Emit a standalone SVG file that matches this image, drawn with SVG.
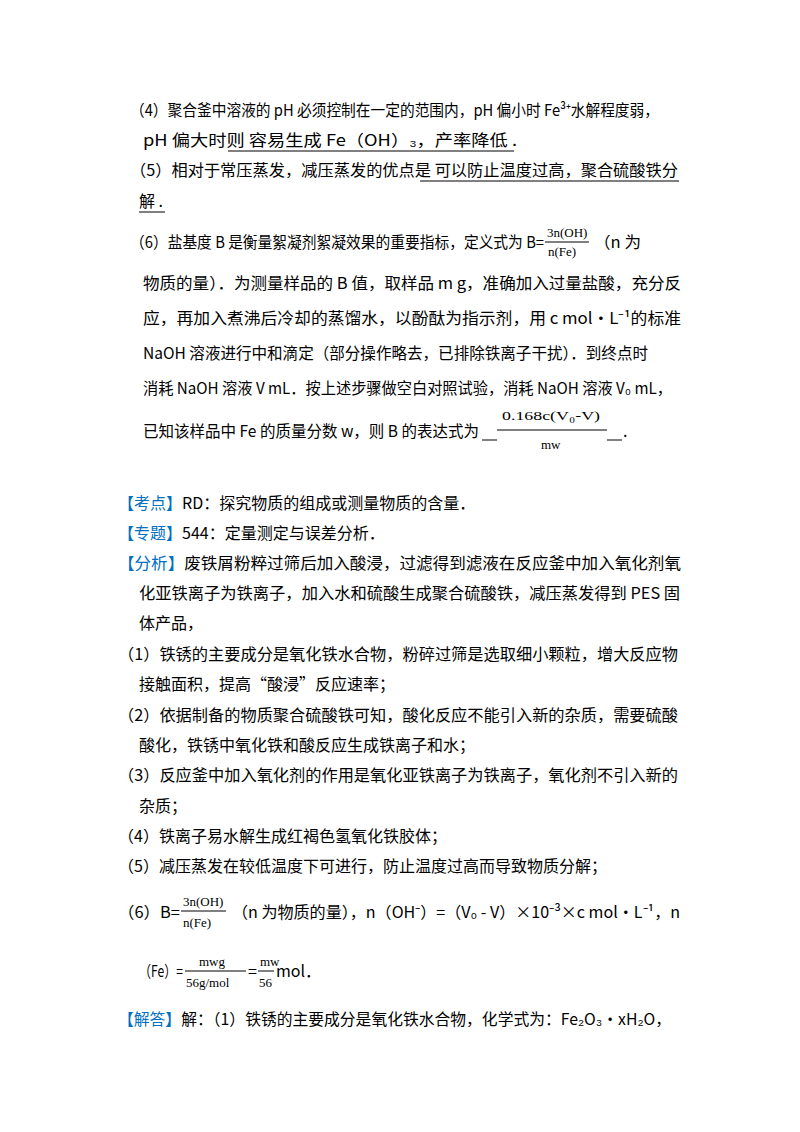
<svg xmlns="http://www.w3.org/2000/svg" width="800" height="1132" viewBox="0 0 800 1132">
<style>
text{font-family:"Microsoft YaHei","Noto Sans CJK SC",sans-serif;font-size:16px;fill:#000}
.b{fill:#0070c0}
.f{font-family:"Liberation Serif","Noto Sans CJK SC",serif;font-size:13px}
line{stroke:#000;stroke-width:1}
</style>
<rect width="800" height="1132" fill="#fff"/>
<g id="q4">
<text x="130" y="116" textLength="529" lengthAdjust="spacingAndGlyphs">（4）聚合釜中溶液的 pH 必须控制在一定的范围内，pH 偏小时 Fe³⁺水解程度弱，</text>
<text x="143" y="146" textLength="374" lengthAdjust="spacingAndGlyphs">pH 偏大时则  容易生成 Fe（OH）₃，产率降低   .</text>
<line x1="228" y1="151" x2="514" y2="151"/>
</g>
<g id="q5">
<text x="130" y="176" textLength="548" lengthAdjust="spacingAndGlyphs">（5）相对于常压蒸发，减压蒸发的优点是  可以防止温度过高，聚合硫酸铁分</text>
<line x1="420" y1="181" x2="679" y2="181"/>
<text x="139" y="207">解   .</text>
<line x1="139" y1="212" x2="165" y2="212"/>
</g>
<g id="q6">
<text x="130" y="248" textLength="414" lengthAdjust="spacingAndGlyphs">（6）盐基度 B 是衡量絮凝剂絮凝效果的重要指标，定义式为 B=</text>
<text x="547" y="237" class="f">3n(OH)</text>
<line x1="545" y1="242" x2="589" y2="242"/>
<text x="548" y="256" class="f">n(Fe)</text>
<text x="594" y="248" textLength="47" lengthAdjust="spacingAndGlyphs">（n 为</text>
<text x="143" y="289" textLength="538" lengthAdjust="spacingAndGlyphs">物质的量）．为测量样品的 B 值，取样品 m g，准确加入过量盐酸，充分反</text>
<text x="143" y="324" textLength="538" lengthAdjust="spacingAndGlyphs">应，再加入煮沸后冷却的蒸馏水，以酚酞为指示剂，用 c mol•L⁻¹的标准</text>
<text x="143" y="359" textLength="505" lengthAdjust="spacingAndGlyphs">NaOH 溶液进行中和滴定（部分操作略去，已排除铁离子干扰）．到终点时</text>
<text x="143" y="394" textLength="529" lengthAdjust="spacingAndGlyphs">消耗 NaOH 溶液 V mL．按上述步骤做空白对照试验，消耗 NaOH 溶液 V₀ mL，</text>
<text x="143" y="437" textLength="336" lengthAdjust="spacingAndGlyphs">已知该样品中 Fe 的质量分数 w，则 B 的表达式为</text>
<line x1="482" y1="440" x2="497" y2="440"/>
<text x="502" y="420" class="f" textLength="98" lengthAdjust="spacingAndGlyphs">0.168c(V₀-V)</text>
<line x1="497" y1="430" x2="607" y2="430"/>
<text x="541" y="449" class="f" font-size="10">mw</text>
<line x1="607" y1="440" x2="622" y2="440"/>
<text x="623" y="437">.</text>
</g>
<g id="kaodian">
<text x="118" y="509"><tspan class="b">【考点】</tspan>RD：探究物质的组成或测量物质的含量．</text>
<text x="118" y="539"><tspan class="b">【专题】</tspan>544：定量测定与误差分析．</text>
</g>
<g id="fenxi">
<text x="118" y="569" textLength="563" lengthAdjust="spacingAndGlyphs"><tspan class="b">【分析】</tspan>废铁屑粉粹过筛后加入酸浸，过滤得到滤液在反应釜中加入氧化剂氧</text>
<text x="139" y="599" textLength="541" lengthAdjust="spacingAndGlyphs">化亚铁离子为铁离子，加入水和硫酸生成聚合硫酸铁，减压蒸发得到 PES 固</text>
<text x="139" y="629">体产品，</text>
<text x="118" y="660" textLength="560" lengthAdjust="spacingAndGlyphs">（1）铁锈的主要成分是氧化铁水合物，粉碎过筛是选取细小颗粒，增大反应物</text>
<text x="139" y="690">接触面积，提高“酸浸”反应速率；</text>
<text x="118" y="721" textLength="560" lengthAdjust="spacingAndGlyphs">（2）依据制备的物质聚合硫酸铁可知，酸化反应不能引入新的杂质，需要硫酸</text>
<text x="139" y="751">酸化，铁锈中氧化铁和酸反应生成铁离子和水；</text>
<text x="118" y="781" textLength="560" lengthAdjust="spacingAndGlyphs">（3）反应釜中加入氧化剂的作用是氧化亚铁离子为铁离子，氧化剂不引入新的</text>
<text x="139" y="812">杂质；</text>
<text x="118" y="842">（4）铁离子易水解生成红褐色氢氧化铁胶体；</text>
<text x="118" y="872">（5）减压蒸发在较低温度下可进行，防止温度过高而导致物质分解；</text>
<text x="118" y="918" textLength="62" lengthAdjust="spacingAndGlyphs">（6）B=</text>
<text x="183" y="906" class="f">3n(OH)</text>
<line x1="181" y1="911" x2="226" y2="911"/>
<text x="183" y="927" class="f">n(Fe)</text>
<text x="232" y="918" textLength="448" lengthAdjust="spacingAndGlyphs">（n 为物质的量），n（OH⁻）=（V₀ - V）×10⁻³×c mol•L⁻¹，n</text>
<text x="139" y="977" textLength="44" lengthAdjust="spacingAndGlyphs">（Fe）=</text>
<text x="199" y="966" class="f" font-size="10">mwg</text>
<line x1="185" y1="971" x2="246" y2="971"/>
<text x="186" y="987" class="f">56g/mol</text>
<text x="248" y="977">=</text>
<text x="260" y="966" class="f" font-size="10">mw</text>
<line x1="258" y1="971" x2="274" y2="971"/>
<text x="259" y="987" class="f">56</text>
<text x="276" y="977">mol．</text>
</g>
<g id="jieda">
<text x="118" y="1025" textLength="553" lengthAdjust="spacingAndGlyphs"><tspan class="b">【解答】</tspan>解：（1）铁锈的主要成分是氧化铁水合物，化学式为：Fe₂O₃•xH₂O，</text>
</g>
</svg>
